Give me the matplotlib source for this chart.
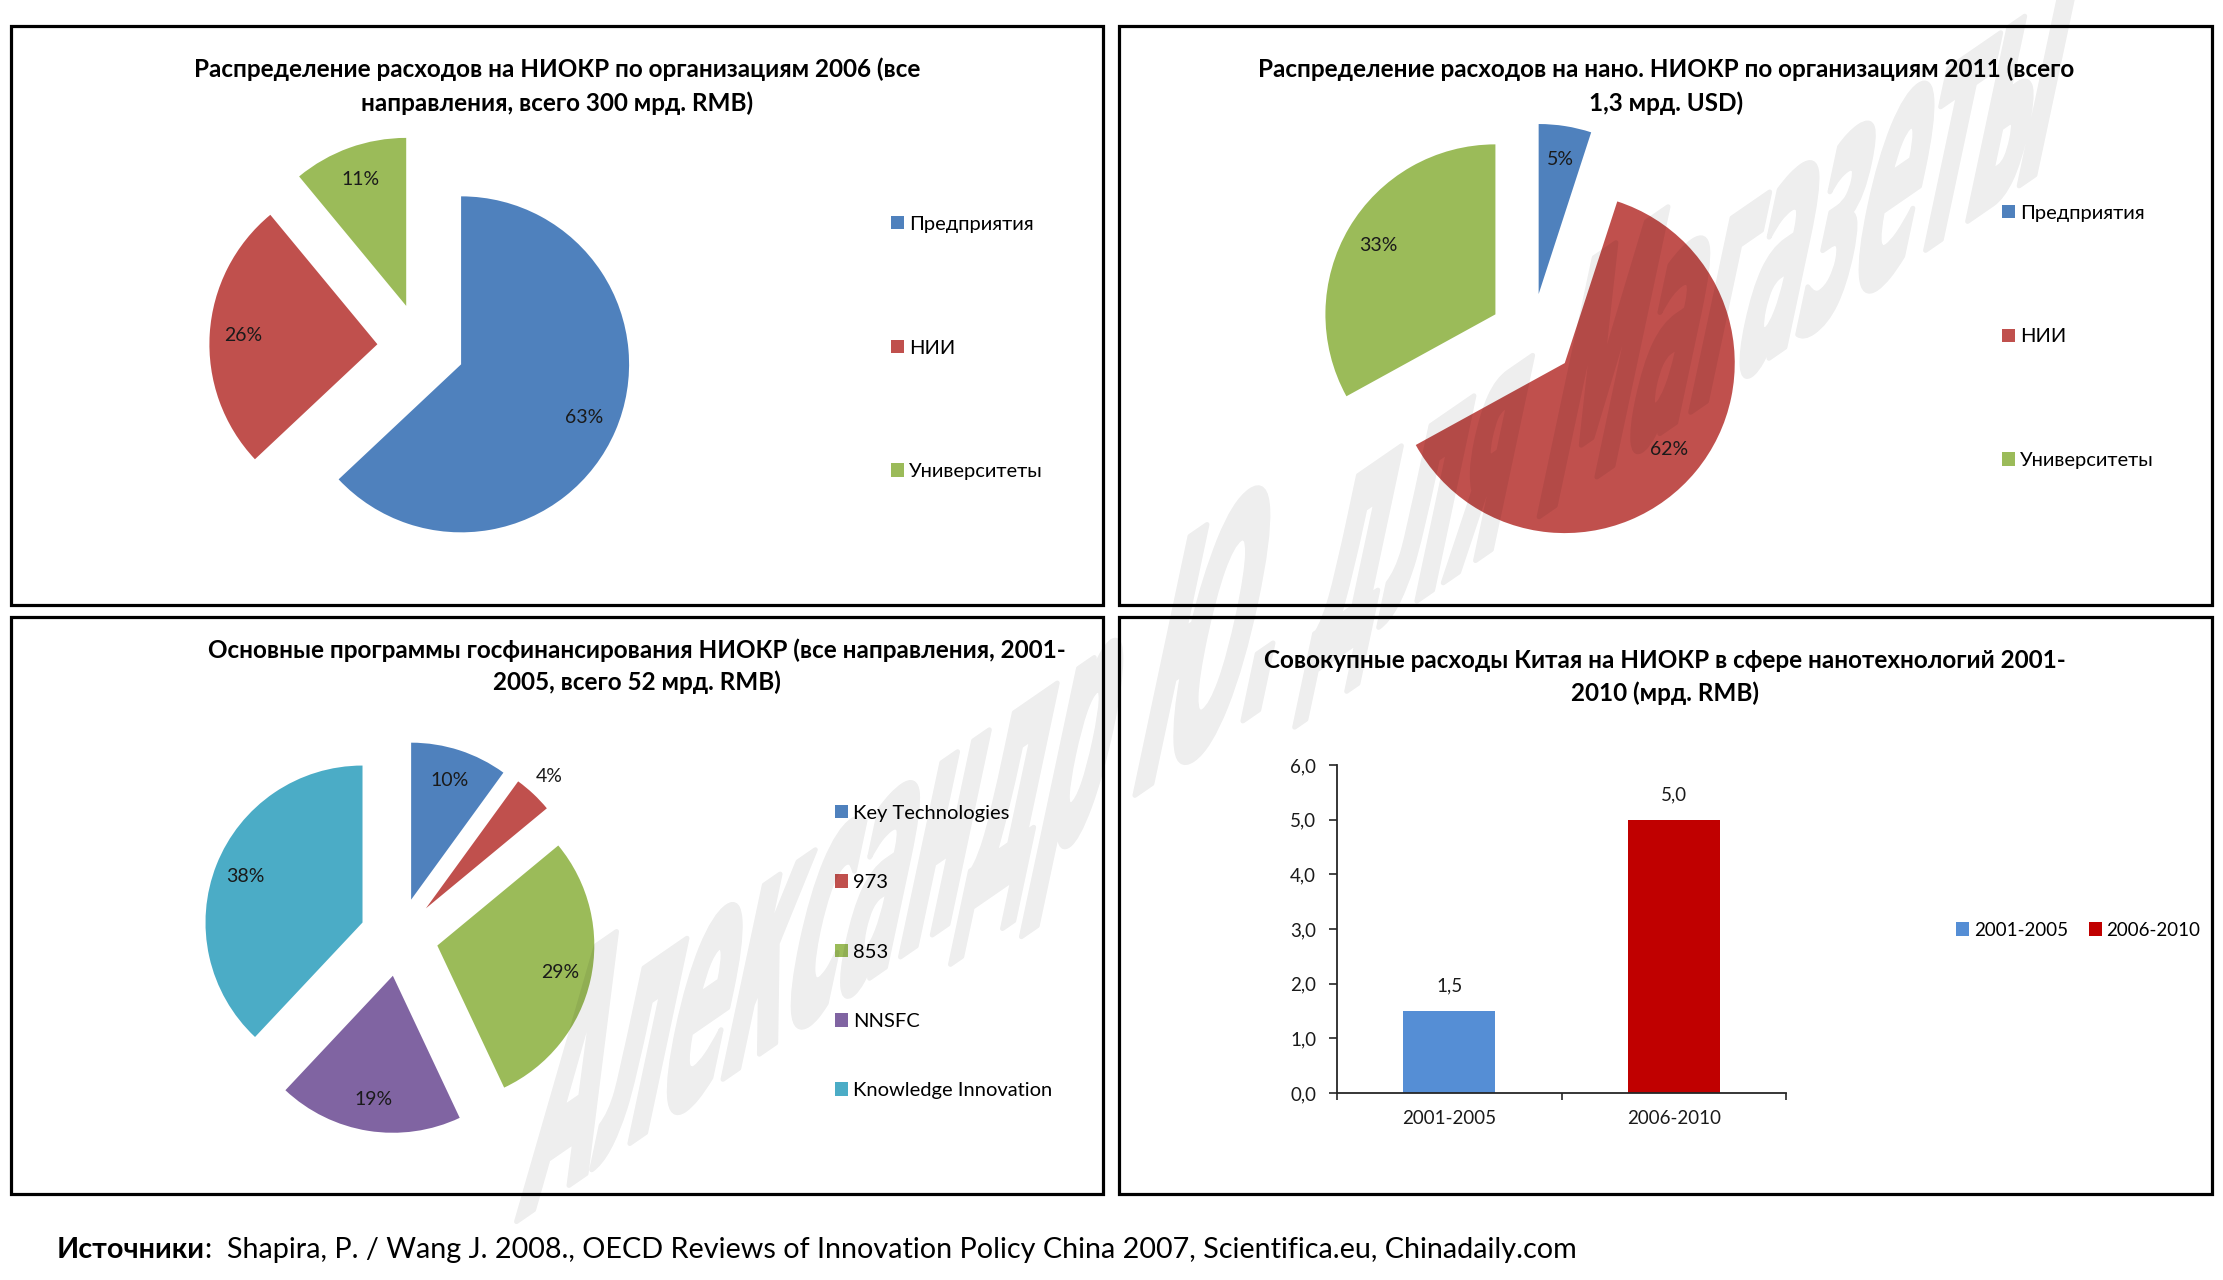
import matplotlib
matplotlib.use('Agg')
import matplotlib.pyplot as plt
import numpy as np
from matplotlib.patches import Rectangle, PathPatch
from matplotlib.textpath import TextPath
from matplotlib.font_manager import FontProperties
from matplotlib.transforms import Affine2D
from matplotlib.ticker import FuncFormatter

W, H = 2223, 1280
plt.rcParams['font.family'] = ['Lato', 'DejaVu Sans']

# ---- data ----
title1 = ['Распределение расходов на НИОКР по организациям 2006 (все',
          'направления, всего 300 мрд. RMB)']
labels1 = ['Предприятия', 'НИИ', 'Университеты']
values1 = [63, 26, 11]

title2 = ['Распределение расходов на нано. НИОКР по организациям 2011 (всего',
          '1,3 мрд. USD)']
labels2 = ['Предприятия', 'НИИ', 'Университеты']
values2 = [5, 62, 33]

title3 = ['Основные программы госфинансирования НИОКР (все направления, 2001-',
          '2005, всего 52 мрд. RMB)']
labels3 = ['Key Technologies', '973', '853', 'NNSFC', 'Knowledge Innovation']
values3 = [10, 4, 29, 19, 38]

title4 = ['Совокупные расходы Китая на НИОКР в сфере нанотехнологий 2001-',
          '2010 (мрд. RMB)']
bar_labels = ['2001-2005', '2006-2010']
bar_values = [1.5, 5.0]

source_bold = 'Источники'
source_rest = ':  Shapira, P. / Wang J. 2008., OECD Reviews of Innovation Policy China 2007, Scientifica.eu, Chinadaily.com'
watermark = 'Александр Ю. для Магазеты'

pie_colors = ['#4F81BD', '#C0504D', '#9BBB59', '#8064A2', '#4BACC6']
bar_colors = ['#558ED5', '#C00000']


def fy(y):
    return H - y


def comma(v):
    return f'{v:.1f}'.replace('.', ',')


fig = plt.figure(figsize=(W / 100, H / 100), dpi=100)
canvas = fig.add_axes([0, 0, 1, 1])

# panel frames
panels = [(11, 26, 1103, 605), (1119, 26, 2212, 605),
          (11, 617, 1103, 1194), (1119, 617, 2212, 1194)]
for x0, y0, x1, y1 in panels:
    canvas.add_patch(Rectangle((x0, fy(y1)), x1 - x0, y1 - y0, fill=False,
                               lw=2.3, ec='black', zorder=5))

# titles
def draw_title(lines, cx, ys):
    for line, y in zip(lines, ys):
        canvas.text(cx, fy(y), line, ha='center', va='center',
                    fontsize=17.5, fontweight='bold', color='black')

draw_title(title1, 557, [69, 103])
draw_title(title2, 1666, [69, 103])
draw_title(title3, 637, [650, 682])
draw_title(title4, 1665, [661, 693])


def draw_pie(values, labels, cx, cy, r, expl, leg_x, leg_y, spacing):
    n = len(values)
    # explode is given as a share of the radius
    wedges, texts, autos = canvas.pie(
        values, explode=[expl * r] * n, colors=pie_colors[:n], startangle=90,
        counterclock=False, center=(cx, fy(cy)), radius=r,
        autopct='%1.0f%%', pctdistance=0.8,
        textprops=dict(fontsize=14, color='#1a1a1a'))
    fig.legend(wedges, labels, loc='center left',
               bbox_to_anchor=(leg_x / W, fy(leg_y) / H),
               bbox_transform=fig.transFigure, frameon=False, fontsize=14.5,
               labelspacing=spacing, handlelength=0.65, handleheight=0.65,
               handletextpad=0.25, borderpad=0, borderaxespad=0)
    return wedges, autos


draw_pie(values1, labels1, 421, 347, 168, 0.26, 891, 348, 5.3)
draw_pie(values2, labels2, 1532, 336, 170, 0.25, 2002, 337, 5.3)
w3, a3 = draw_pie(values3, labels3, 399, 937, 157, 0.25, 835, 952, 2.6)

# the small 4% label sits outside its slice
wd = w3[1]
mid = np.deg2rad((wd.theta1 + wd.theta2) / 2)
a3[1].set_position((wd.center[0] + 1.15 * wd.r * np.cos(mid),
                    wd.center[1] + 1.15 * wd.r * np.sin(mid)))

canvas.set_xlim(0, W)
canvas.set_ylim(0, H)
canvas.set_aspect('auto')
canvas.axis('off')

# ---- bar chart ----
ax_l, ax_r, ax_b, ax_t = 1337, 1786, 1093, 765
bx = fig.add_axes([ax_l / W, fy(ax_b) / H, (ax_r - ax_l) / W, (ax_b - ax_t) / H])
xs = np.arange(len(bar_values))
bars = bx.bar(xs, bar_values, width=0.41, color=bar_colors, zorder=2)
bx.bar_label(bars, labels=[comma(v) for v in bar_values], padding=12,
             fontsize=13.5, color='#1a1a1a')
bx.set_xlim(-0.5, len(bar_values) - 0.5)
bx.set_ylim(0, 6)
bx.set_yticks(np.arange(0, 7, 1))
bx.yaxis.set_major_formatter(FuncFormatter(lambda v, p: comma(v)))
bx.set_xticks(np.arange(-0.5, len(bar_values), 1))
bx.set_xticklabels([])
bx.set_xticks(xs, minor=True)
bx.set_xticklabels(bar_labels, minor=True)
bx.tick_params(axis='x', which='major', length=5, width=1.2, direction='out', color='#262626')
bx.tick_params(axis='x', which='minor', length=0, pad=12, labelsize=13.5, labelcolor='#1a1a1a')
bx.tick_params(axis='y', length=6, width=1.2, direction='out', pad=9,
               labelsize=13.5, labelcolor='#1a1a1a', color='#262626')
for side in ['top', 'right']:
    bx.spines[side].set_visible(False)
for side in ['left', 'bottom']:
    bx.spines[side].set_linewidth(1.3)
    bx.spines[side].set_color('#262626')
bx.patch.set_alpha(0)
bx.legend(list(bars), bar_labels, ncol=2, loc='center left',
          bbox_to_anchor=(1956 / W, fy(930) / H), bbox_transform=fig.transFigure,
          frameon=False, fontsize=13.5, handlelength=0.7, handleheight=0.7,
          handletextpad=0.25, columnspacing=1.1, borderpad=0, borderaxespad=0)

# ---- source line ----
t1 = canvas.text(57, fy(1250), source_bold, ha='left', va='center',
                 fontsize=20.7, fontweight='bold')
canvas.annotate(source_rest, xy=(1, 0), xycoords=t1, ha='left', va='bottom',
                fontsize=20.7)

# ---- watermark ----
# drawn opaque on a separate transparent canvas (so the thickening stroke
# merges with the fill), then laid over the charts with a low alpha
wm_font = FontProperties(family='DejaVu Sans', weight='bold')
tp = TextPath((0, 0), watermark, size=100, prop=wm_font)
ext = tp.get_extents()
cap = TextPath((0, 0), 'А', size=100, prop=wm_font).get_extents().height
p0 = np.array([516.0, fy(1222)])
p1 = np.array([2035.0, fy(175)])
base = (p1 - p0) / ext.x1
ang = np.deg2rad(78)
up = np.array([np.cos(ang), np.sin(ang)]) * 265 / cap
M = np.array([[base[0], up[0], p0[0]],
              [base[1], up[1], p0[1]],
              [0, 0, 1]])

wfig = plt.figure(figsize=(W / 100, H / 100), dpi=100)
wfig.patch.set_alpha(0)
wfig.add_artist(PathPatch(tp, transform=Affine2D(M).scale(1 / W, 1 / H) + wfig.transFigure,
                          facecolor='black', edgecolor='black', lw=3.5, joinstyle='round'))
wfig.canvas.draw()
wm_img = np.asarray(wfig.canvas.buffer_rgba()).copy()
plt.close(wfig)
wm_img[..., 3] = (wm_img[..., 3].astype(float) * 0.07).astype(np.uint8)
fig.figimage(wm_img, 0, 0, zorder=10, origin='upper')

fig.savefig('out.png', dpi=100)
